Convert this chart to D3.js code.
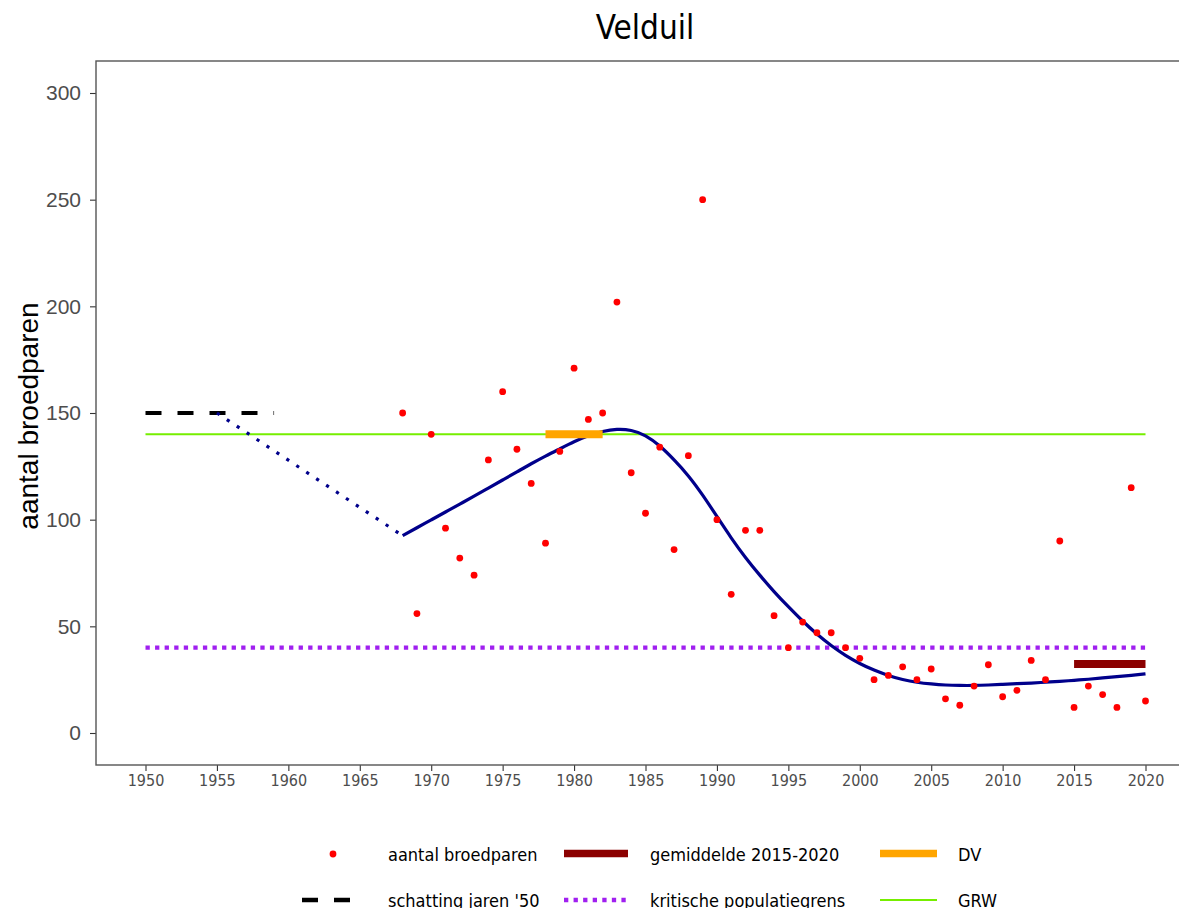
<!DOCTYPE html>
<html>
<head>
<meta charset="utf-8">
<script src="https://cdn.jsdelivr.net/npm/d3@7"></script>
<style>
  body { margin: 0; background: #fff; }
  svg { display: block; }
</style>
</head>
<body>
<div id="chart"></div>
<script>
// counted breeding pairs per year
const years = [1968, 1969, 1970, 1971, 1972, 1973, 1974, 1975, 1976, 1977, 1978, 1979,
  1980, 1981, 1982, 1983, 1984, 1985, 1986, 1987, 1988, 1989, 1990, 1991, 1992, 1993,
  1994, 1995, 1996, 1997, 1998, 1999, 2000, 2001, 2002, 2003, 2004, 2005, 2006, 2007,
  2008, 2009, 2010, 2011, 2012, 2013, 2014, 2015, 2016, 2017, 2018, 2019, 2020];
const pairs = [150, 56, 140, 96, 82, 74, 128, 160, 133, 117, 89, 132,
  171, 147, 150, 202, 122, 103, 134, 86, 130, 250, 100, 65, 95, 95,
  55, 40, 52, 47, 47, 40, 35, 25, 27, 31, 25, 30, 16, 13,
  22, 32, 17, 20, 34, 25, 90, 12, 22, 18, 12, 115, 15];
// smoothed trend, same years
const trend = [92.5, 96.2, 99.9, 103.6, 107.3, 111, 114.8, 118.6, 122.4, 126.2, 129.8, 133.2,
  136.5, 139.3, 141.3, 142.3, 141.8, 139.3, 134.5, 128, 120.5, 111.5, 101.5, 91.5, 82.3, 74,
  66.3, 59.2, 52.5, 46.4, 41, 36.4, 32.6, 29.5, 27, 25.1, 23.8, 23, 22.5, 22.3,
  22.3, 22.5, 22.8, 23.1, 23.4, 23.8, 24.2, 24.7, 25.2, 25.8, 26.4, 27, 27.7];

// estimate for the fifties and the dotted link to the trend
const estYears = [1950, 1959];
const estValue = 150;
const linkYears = [1955, 1968];
const linkValues = [150, 92.5];

// reference levels
const grwYears = [1950, 2020], grwValue = 140;
const critYears = [1950, 2020], critValue = 40;
const dvYears = [1978, 1982], dvValue = 140;
const avgYears = [2015, 2020];

const xTicks = [1950, 1955, 1960, 1965, 1970, 1975, 1980, 1985, 1990, 1995, 2000, 2005, 2010, 2015, 2020];
const yTicks = [0, 50, 100, 150, 200, 250, 300];

const legendLabels = ["aantal broedparen", "gemiddelde 2015-2020", "DV",
  "schatting jaren '50", "kritische populatiegrens", "GRW"];

const W = 1179, H = 908;
const margin = {top: 61, right: -17, bottom: 143, left: 96};
const width = W - margin.left - margin.right;
const height = H - margin.top - margin.bottom;

const avgValue = d3.mean(pairs.filter((d, i) => years[i] >= avgYears[0]));

const svg = d3.select("#chart").append("svg")
    .attr("width", W)
    .attr("height", H);

svg.append("rect").attr("width", W).attr("height", H).attr("fill", "#fff");

const g = svg.append("g")
    .attr("transform", `translate(${margin.left}, ${margin.top})`);

const x = d3.scaleLinear().domain([1946.5, 2023.5]).range([-0.5, width - 0.5]);
const y = d3.scaleLinear().domain([-15, 315]).range([height, 0]);

const sans = "'Liberation Sans', Arial, sans-serif";
const cond = "'DejaVu Sans Condensed', 'DejaVu Sans', sans-serif";

// x axis
const xAxis = g.append("g")
    .attr("transform", `translate(0, ${height})`)
    .call(d3.axisBottom(x).tickValues(xTicks).tickFormat(d3.format("d")).tickSize(6).tickSizeOuter(0));
xAxis.select(".domain").remove();
xAxis.selectAll(".tick line").attr("stroke", "#333").attr("stroke-width", 1.1);
xAxis.selectAll(".tick text")
    .attr("y", 10)
    .attr("dy", "0.71em")
    .attr("fill", "#4d4d4d")
    .style("font-family", cond)
    .style("font-size", "16px");

// y axis
const yAxis = g.append("g")
    .call(d3.axisLeft(y).tickValues(yTicks).tickSize(6).tickSizeOuter(0));
yAxis.select(".domain").remove();
yAxis.selectAll(".tick line").attr("stroke", "#333").attr("stroke-width", 1.1);
yAxis.selectAll(".tick text")
    .attr("x", -15)
    .attr("fill", "#4d4d4d")
    .style("font-family", sans)
    .style("font-size", "21px");

// panel border
g.append("rect")
    .attr("x", 0).attr("y", 0)
    .attr("width", width).attr("height", height)
    .attr("fill", "none")
    .attr("stroke", "#555")
    .attr("stroke-width", 1.4);

const hline = (xs, v) => d3.line()([[x(xs[0]), y(v)], [x(xs[1]), y(v)]]);

// GRW
g.append("path").attr("d", hline(grwYears, grwValue))
    .attr("stroke", "#76ee00").attr("stroke-width", 2).attr("fill", "none");

// critical population level
g.append("path").attr("d", hline(critYears, critValue))
    .attr("stroke", "#a020f0").attr("stroke-width", 4.3)
    .attr("stroke-dasharray", "4.3 5.27").attr("fill", "none");

// estimate fifties
g.append("path").attr("d", hline(estYears, estValue))
    .attr("stroke", "#000").attr("stroke-width", 4)
    .attr("stroke-dasharray", "16 16").attr("fill", "none");

// dotted link
g.append("path")
    .attr("d", d3.line().x(d => x(d[0])).y(d => y(d[1]))(linkYears.map((d, i) => [d, linkValues[i]])))
    .attr("stroke", "#00008b").attr("stroke-width", 3.2)
    .attr("stroke-dasharray", "3.2 8.7").attr("fill", "none");

// trend
g.append("path")
    .datum(years.map((d, i) => [d, trend[i]]))
    .attr("d", d3.line().x(d => x(d[0])).y(d => y(d[1])).curve(d3.curveNatural))
    .attr("stroke", "#00008b").attr("stroke-width", 3.2).attr("fill", "none");

// DV bar
g.append("path").attr("d", hline(dvYears, dvValue))
    .attr("stroke", "#ffa500").attr("stroke-width", 8).attr("fill", "none");

// average 2015-2020
g.append("path").attr("d", hline(avgYears, avgValue))
    .attr("stroke", "#8b0000").attr("stroke-width", 8).attr("fill", "none");

// points
g.selectAll("circle.pt")
    .data(years.map((d, i) => [d, pairs[i]]))
    .join("circle")
    .attr("class", "pt")
    .attr("cx", d => x(d[0]))
    .attr("cy", d => y(d[1]))
    .attr("r", 3.4)
    .attr("fill", "#ff0000");

// title
svg.append("text")
    .attr("x", 645)
    .attr("y", 39)
    .attr("text-anchor", "middle")
    .style("font-family", cond)
    .style("font-size", "33px")
    .text("Velduil");

// y label
svg.append("text")
    .attr("transform", "rotate(-90)")
    .attr("x", -416)
    .attr("y", 38)
    .attr("text-anchor", "middle")
    .style("font-family", sans)
    .style("font-size", "28px")
    .text("aantal broedparen");

// legend
const legend = svg.append("g");
const colKey = [302, 564, 872];
const colText = [388, 650, 958];
const rowY = [854, 900];

legendLabels.forEach((lab, i) => {
  const r = Math.floor(i / 3), c = i % 3;
  const cy = rowY[r];
  const k0 = colKey[c], k1 = colKey[c] + 64;
  const item = legend.append("g");
  if (i === 0) {
    item.append("circle").attr("cx", 333).attr("cy", cy).attr("r", 3.4).attr("fill", "#ff0000");
  } else if (i === 1) {
    item.append("line").attr("x1", k0).attr("x2", k1).attr("y1", cy - 0.5).attr("y2", cy - 0.5)
      .attr("stroke", "#8b0000").attr("stroke-width", 7.5);
  } else if (i === 2) {
    item.append("line").attr("x1", k0 + 8).attr("x2", k1 + 1).attr("y1", cy - 0.5).attr("y2", cy - 0.5)
      .attr("stroke", "#ffa500").attr("stroke-width", 7.5);
  } else if (i === 3) {
    item.append("line").attr("x1", k0).attr("x2", k0 + 48).attr("y1", cy).attr("y2", cy)
      .attr("stroke", "#000").attr("stroke-width", 4.5).attr("stroke-dasharray", "16 16");
  } else if (i === 4) {
    item.append("line").attr("x1", k0).attr("x2", k1).attr("y1", cy).attr("y2", cy)
      .attr("stroke", "#a020f0").attr("stroke-width", 4.3).attr("stroke-dasharray", "4.3 5.27");
  } else {
    item.append("line").attr("x1", k0 + 8).attr("x2", k1 + 1).attr("y1", cy).attr("y2", cy)
      .attr("stroke", "#76ee00").attr("stroke-width", 2);
  }
  item.append("text")
    .attr("x", colText[c])
    .attr("y", cy + 6.5)
    .style("font-family", cond)
    .style("font-size", "18px")
    .attr("fill", "#000")
    .text(lab);
});
</script>
</body>
</html>
